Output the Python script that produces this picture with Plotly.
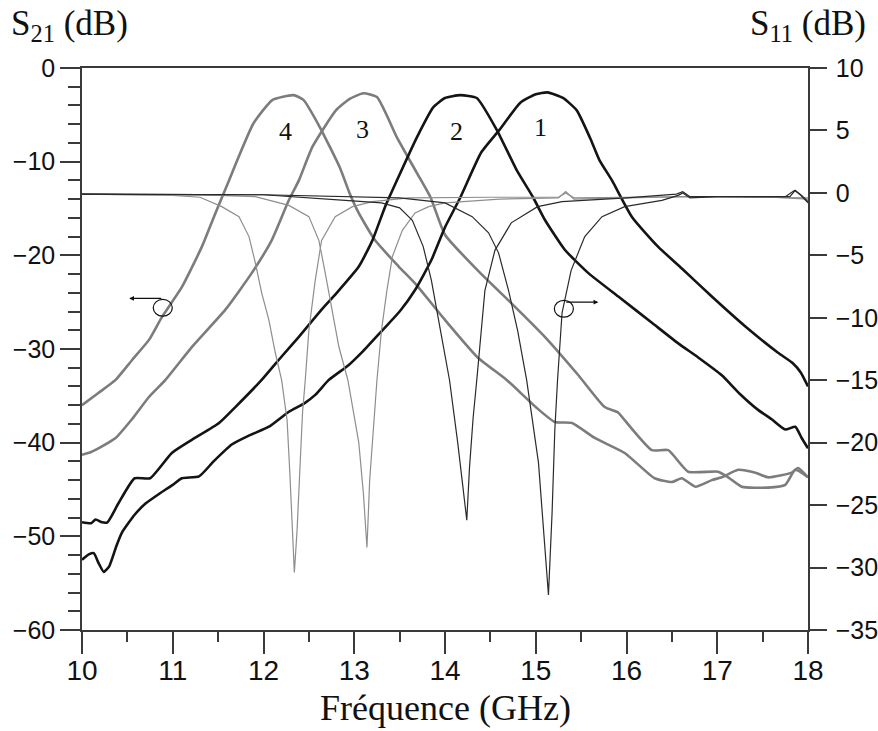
import plotly.graph_objects as go

# ---------------- S21 (left axis, dB) ----------------
f_s21_1 = [10.0, 10.08, 10.13, 10.18, 10.24, 10.3, 10.38, 10.44, 10.58, 10.7, 10.86, 11.0, 11.1, 11.29, 11.45,
           11.65, 11.85, 12.06, 12.28, 12.45, 12.57, 12.72, 12.94, 13.1, 13.31, 13.5, 13.67, 13.85, 14.0, 14.17,
           14.4, 14.6, 14.83, 15.0, 15.13, 15.3, 15.45, 15.6, 15.7, 15.84, 16.06, 16.35, 16.61, 16.94, 17.31,
           17.67, 17.83, 17.92, 18.0]
s21_1 = [-52.5, -51.9, -51.8, -52.8, -53.8, -53.2, -51.0, -49.6, -47.7, -46.5, -45.4, -44.5, -43.8, -43.6, -42.0,
         -40.2, -39.2, -38.3, -36.7, -35.8, -34.9, -33.3, -31.7, -30.2, -28.0, -26.0, -23.7, -20.5, -17.0, -13.8,
         -9.0, -6.6, -3.7, -2.8, -2.6, -3.2, -4.5, -7.5, -9.8, -12.0, -15.9, -19.1, -21.4, -24.4, -27.6,
         -30.4, -31.5, -32.5, -34.0]

f_s21_2 = [10.0, 10.1, 10.15, 10.22, 10.28, 10.4, 10.58, 10.75, 10.99, 11.21, 11.51, 11.69, 11.98, 12.2, 12.39,
           12.64, 12.79, 13.05, 13.2, 13.34, 13.47, 13.69, 13.87, 14.0, 14.17, 14.35, 14.57, 14.79, 14.97, 15.1,
           15.32, 15.58, 15.91, 16.28, 16.57, 16.79, 17.05, 17.25, 17.45, 17.6, 17.75, 17.86, 17.93, 18.0]
s21_2 = [-48.5, -48.6, -48.2, -48.5, -48.5, -46.5, -43.8, -43.8, -41.1, -39.7, -37.9, -36.2, -33.3, -30.8, -28.7,
         -25.8, -24.2, -21.2, -18.4, -14.8, -12.0, -7.4, -4.2, -3.2, -2.9, -3.2, -6.6, -10.9, -13.8, -16.2,
         -19.4, -21.9, -24.4, -27.2, -29.4, -30.9, -32.8, -34.8, -36.5, -37.5, -38.6, -38.3, -39.5, -40.6]

f_s21_3 = [10.0, 10.1, 10.22, 10.37, 10.55, 10.74, 10.92, 11.21, 11.58, 11.87, 12.09, 12.28, 12.39, 12.54, 12.8,
           12.95, 13.1, 13.25, 13.47, 13.69, 13.84, 14.0, 14.36, 14.73, 15.1, 15.47, 15.76, 15.91, 15.98, 16.28,
           16.46, 16.68, 17.01, 17.12, 17.27, 17.56, 17.75, 17.86, 18.0]
s21_3 = [-41.3, -41.0, -40.4, -39.5, -37.5, -35.1, -33.3, -29.8, -25.8, -21.9, -18.4, -14.1, -12.0, -8.4, -4.5,
         -3.3, -2.7, -3.1, -7.4, -11.2, -13.8, -17.8, -21.6, -25.1, -28.7, -32.8, -36.2, -36.8, -37.6, -40.8,
         -40.8, -43.1, -43.1, -43.7, -44.7, -44.8, -44.5, -42.9, -43.7]

f_s21_4 = [10.0, 10.18, 10.37, 10.55, 10.74, 10.88, 11.1, 11.32, 11.47, 11.62, 11.7, 11.89, 12.1, 12.33, 12.44,
           12.62, 12.84, 12.95, 13.05, 13.23, 13.49, 13.67, 14.0, 14.36, 14.68, 15.0, 15.21, 15.4, 15.65, 15.98,
           16.31, 16.5, 16.61, 16.76, 16.94, 17.05, 17.23, 17.42, 17.56, 17.82, 17.89, 18.0]
s21_4 = [-36.0, -34.7, -33.3, -31.2, -29.0, -26.6, -23.4, -19.1, -15.5, -12.0, -10.1, -5.9, -3.4, -2.9, -3.4,
         -6.3, -10.6, -13.4, -15.5, -18.4, -21.2, -23.0, -26.9, -30.9, -33.3, -36.2, -37.8, -37.9, -39.5, -41.1,
         -43.8, -44.2, -43.8, -44.7, -44.0, -43.7, -42.9, -43.2, -43.7, -43.2, -42.7, -43.7]

# ---------------- S11 (right axis, dB) ----------------
f_s11_1 = [10.0, 12.0, 13.5, 14.0, 14.3, 14.48, 14.59, 14.7, 14.8, 14.9, 15.03, 15.1, 15.14, 15.18, 15.21, 15.24,
           15.29, 15.39, 15.54, 15.73, 15.98, 16.39, 16.57, 16.62, 16.7, 17.0, 17.75, 17.85, 17.92, 18.0]
s11_1 = [-0.1, -0.15, -0.4, -0.8, -1.9, -3.2, -4.8, -7.8, -11.0, -15.0, -21.6, -28.4, -32.2, -25.6, -19.0, -15.0,
         -9.6, -6.2, -3.5, -1.9, -1.1, -0.6, -0.2, 0.0, -0.4, -0.3, -0.3, 0.2, -0.2, -0.8]

f_s11_2 = [10.0, 12.0, 12.9, 13.3, 13.5, 13.64, 13.76, 13.85, 13.95, 14.05, 14.14, 14.2, 14.24, 14.27, 14.31, 14.35,
           14.44, 14.55, 14.73, 15.02, 15.29, 16.0, 16.55, 16.62, 16.7, 17.5, 17.8, 17.86, 17.93, 18.0]
s11_2 = [-0.1, -0.15, -0.6, -0.8, -1.2, -2.2, -4.3, -7.0, -11.0, -15.0, -20.0, -24.0, -26.2, -22.0, -18.0, -15.0,
         -7.8, -4.6, -2.4, -1.1, -0.7, -0.4, -0.1, 0.1, -0.3, -0.3, -0.3, 0.2, -0.2, -0.7]

f_s11_3 = [10.0, 11.5, 11.91, 12.28, 12.5, 12.61, 12.68, 12.76, 12.83, 12.93, 13.05, 13.1, 13.14, 13.17, 13.21,
           13.25, 13.3, 13.36, 13.42, 13.53, 13.67, 13.82, 14.0, 14.6, 15.25, 15.33, 15.42, 16.0, 16.6, 17.5, 18.0]
s11_3 = [-0.1, -0.2, -0.3, -1.0, -1.9, -3.8, -6.4, -9.6, -12.3, -15.0, -20.0, -24.0, -28.4, -23.0, -19.0,
         -15.0, -11.0, -7.8, -5.1, -3.0, -1.6, -1.1, -0.8, -0.5, -0.4, 0.1, -0.5, -0.4, -0.3, -0.3, -0.5]

f_s11_4 = [10.0, 11.0, 11.3, 11.54, 11.73, 11.84, 11.91, 11.98, 12.06, 12.13, 12.2, 12.26, 12.29, 12.32, 12.34,
           12.37, 12.4, 12.43, 12.46, 12.5, 12.57, 12.64, 12.79, 12.98, 13.2, 13.6, 14.5, 15.25, 15.33, 15.42,
           16.0, 17.0, 18.0]
s11_4 = [-0.1, -0.2, -0.35, -1.1, -1.9, -3.5, -5.6, -8.0, -10.2, -12.8, -15.0, -18.2, -22.4, -27.0, -30.4,
         -27.0, -21.6, -17.6, -15.0, -11.0, -7.0, -3.8, -1.9, -1.1, -0.7, -0.4, -0.35, -0.35, 0.0, -0.4,
         -0.35, -0.3, -0.4]

# ---------------- labels ----------------
x_ticks = [10, 11, 12, 13, 14, 15, 16, 17, 18]
filter_labels = ["1", "2", "3", "4"]
label_pos_f = [15.05, 14.13, 13.09, 12.24]
label_pos_db = [-6.4, -6.8, -6.6, -6.8]

BLACK = "#141414"
GRAY = "#7c7c7c"
THIN_BLACK = "#2a2a2a"
THIN_GRAY = "#8e8e8e"

fig = go.Figure()

# S11 traces (thin) first, on the overlaid x2/y2 axes
for f, s, c in [(f_s11_4, s11_4, THIN_GRAY), (f_s11_3, s11_3, THIN_GRAY),
                (f_s11_2, s11_2, THIN_BLACK), (f_s11_1, s11_1, THIN_BLACK)]:
    fig.add_trace(go.Scatter(x=f, y=s, mode="lines", xaxis="x2", yaxis="y2",
                             line=dict(color=c, width=1.2), hoverinfo="skip"))

# S21 traces (thick)
for f, s, c in [(f_s21_4, s21_4, GRAY), (f_s21_3, s21_3, GRAY),
                (f_s21_2, s21_2, BLACK), (f_s21_1, s21_1, BLACK)]:
    fig.add_trace(go.Scatter(x=f, y=s, mode="lines", xaxis="x", yaxis="y",
                             line=dict(color=c, width=2.6, shape="spline", smoothing=0.5),
                             hoverinfo="skip"))

AXC = "#3a3a3a"
tickfont_y = dict(family="Liberation Sans, Arial", size=25, color="#111")
tickfont_x = dict(family="Liberation Sans, Arial", size=28, color="#111")

fig.update_layout(
    width=878, height=731,
    margin=dict(l=82, r=70, t=68, b=101, autoexpand=False),
    paper_bgcolor="white", plot_bgcolor="white",
    showlegend=False,
    xaxis=dict(range=[10, 18], tickvals=x_ticks, ticks="outside", ticklen=22, tickwidth=1.5,
               tickcolor=AXC, showline=True, linecolor=AXC, linewidth=1.5, mirror=True,
               showgrid=False, zeroline=False, showticklabels=False, automargin=False,
               minor=dict(dtick=0.5, ticks="outside", ticklen=10, tickwidth=1.5, tickcolor=AXC)),
    xaxis2=dict(range=[10, 18], tickvals=x_ticks, overlaying="x", anchor="y", side="bottom",
                ticks="", showline=False, showgrid=False, zeroline=False, automargin=False,
                ticklabelstandoff=21, tickfont=tickfont_x),
    yaxis=dict(range=[-60, 0], dtick=10, ticks="outside", ticklen=20, tickwidth=1.5, tickcolor=AXC,
               showline=True, linecolor=AXC, linewidth=1.5, showgrid=False, zeroline=False,
               tickfont=tickfont_y, automargin=False,
               minor=dict(dtick=2, ticks="outside", ticklen=12, tickwidth=1.5, tickcolor=AXC)),
    yaxis2=dict(range=[-35, 10], dtick=5, overlaying="y", anchor="x", side="right", ticks="outside",
                ticklen=17, tickwidth=1.5, tickcolor=AXC, showline=True, linecolor=AXC, linewidth=1.5,
                showgrid=False, zeroline=False, tickfont=tickfont_y, automargin=False,
                ticklabelstandoff=4),
)

serif = "Liberation Serif, Times New Roman"
annots = [
    dict(text="S<sub>21</sub> (dB)", xref="paper", yref="paper", x=-0.1, y=1.075,
         xanchor="left", yanchor="middle", showarrow=False, font=dict(family=serif, size=35, color="#111")),
    dict(text="S<sub>11</sub> (dB)", xref="paper", yref="paper", x=1.083, y=1.075,
         xanchor="right", yanchor="middle", showarrow=False, font=dict(family=serif, size=35, color="#111")),
    dict(text="Fréquence (GHz)", xref="paper", yref="paper", x=0.5, y=-0.139,
         xanchor="center", yanchor="middle", showarrow=False, font=dict(family=serif, size=36, color="#111")),
]
for lab, fx, fy in zip(filter_labels, label_pos_f, label_pos_db):
    annots.append(dict(text=lab, x=fx, y=fy, xref="x", yref="y", showarrow=False,
                       font=dict(family=serif, size=26, color="#111")))

# arrows indicating the axis of each family
arrow_left = dict(tail=(10.89, -24.6), head=(10.52, -24.6))
arrow_right = dict(tail=(15.32, -25.0), head=(15.69, -25.0))
for a in (arrow_left, arrow_right):
    annots.append(dict(x=a["head"][0], y=a["head"][1], ax=a["tail"][0], ay=a["tail"][1],
                       xref="x", yref="y", axref="x", ayref="y", text="", showarrow=True,
                       arrowhead=2, arrowsize=0.8, arrowwidth=1.2, arrowcolor="#111"))
fig.update_layout(annotations=annots)

circle_left = (10.89, -25.6)
circle_right = (15.31, -25.7)
for cx, cy in (circle_left, circle_right):
    fig.add_shape(type="circle", xref="x", yref="y", x0=cx - 0.105, x1=cx + 0.105,
                  y0=cy - 0.9, y1=cy + 0.9, line=dict(color="#111", width=1.2))

fig.write_html("out.html", config={"displayModeBar": False},
               post_script="document.body.style.margin='0';document.body.style.overflow='hidden';")
